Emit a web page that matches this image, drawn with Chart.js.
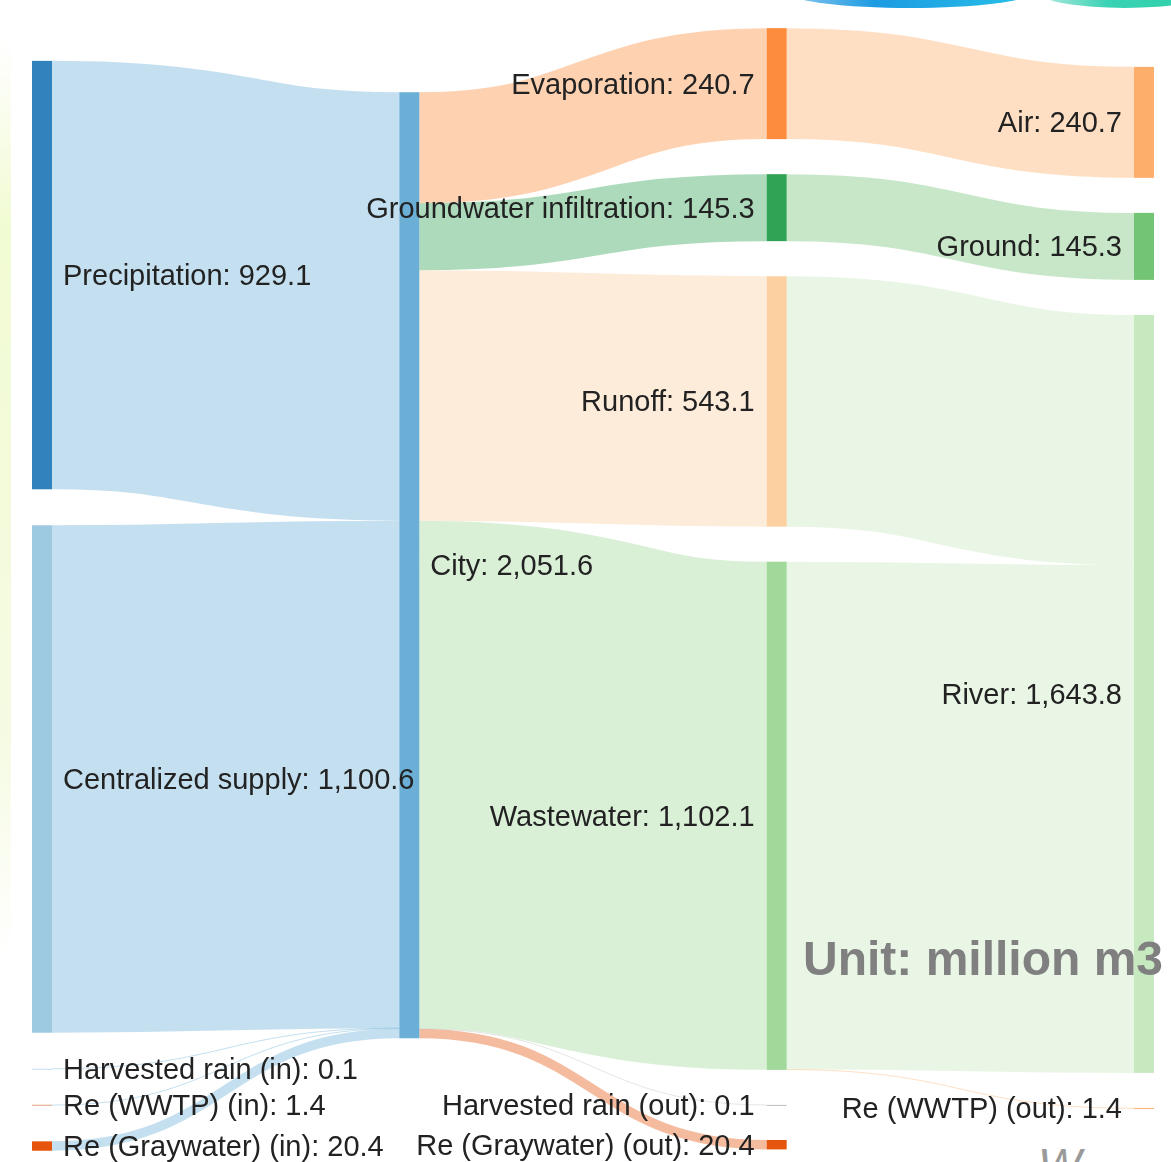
<!DOCTYPE html>
<html>
<head>
  <title>City water balance</title>
  <style>
    body { margin: 0; background: #fff; }
    #wrap { position: relative; width: 1171px; height: 1162px; overflow: hidden; }
    #edge { position: absolute; left: 0; top: 40px; width: 11px; height: 920px;
            background: linear-gradient(to bottom, rgba(241,251,211,0), #f1fbd3 20%, #f5fbe2 75%, rgba(241,251,211,0)); }
    #swooshBlue { position: absolute; left: 790px; top: -22px; width: 240px; height: 30px; border-radius: 50%;
                  background: linear-gradient(to right, #8cc8ef, #1d9be2 35%, #27c0e8); }
    #swooshTeal { position: absolute; left: 1040px; top: -22px; width: 170px; height: 30px; border-radius: 50%;
                  background: linear-gradient(to right, #b5eadf, #38d2b4 40%, #2fd0a8); }
    #mark { position: absolute; left: 1038px; top: 1138px; font: italic 46px "Liberation Sans", Arial, sans-serif; color: #9a9a9a; }
    #box { position: absolute; left: 0; top: 0; width: 1171px; height: 1162px; }
  </style>
</head>
<body>
  <div id="wrap">
    <div id="edge"></div>
    <div id="swooshBlue"></div>
    <div id="swooshTeal"></div>
    <div id="mark">W</div>
    <div id="box"><canvas id="chart"></canvas></div>
  </div>

  <script src="https://cdn.jsdelivr.net/npm/chart.js"></script>
  <script>
    // nodes, in column order (top to bottom)
    const nodeNames = [
      'Precipitation', 'Centralized supply', 'Harvested rain (in)', 'Re (WWTP) (in)', 'Re (Graywater) (in)',
      'City',
      'Evaporation', 'Groundwater infiltration', 'Runoff', 'Wastewater', 'Harvested rain (out)', 'Re (Graywater) (out)',
      'Air', 'Ground', 'River', 'Re (WWTP) (out)'
    ];
    const nodeColumn = [0, 0, 0, 0, 0, 1, 2, 2, 2, 2, 2, 2, 3, 3, 3, 3];
    const nodeColors = [
      '#3182bd', '#9ecae1', '#c6dbef', '#e0a47c', '#e6550d',
      '#6baed6',
      '#fd8d3c', '#31a354', '#fdd0a2', '#a1d99b', '#bdbdbd', '#e6550d',
      '#fdae6b', '#74c476', '#c7e9c0', '#fdae6b'
    ];

    // flows (million m3)
    const linkSource = [0, 1, 2, 3, 4, 5, 5, 5, 5, 5, 5, 6, 7, 8, 9, 9];
    const linkTarget = [5, 5, 5, 5, 5, 6, 7, 8, 9, 10, 11, 12, 13, 14, 14, 15];
    const linkValue = [929.1, 1100.6, 0.1, 1.4, 20.4, 240.7, 145.3, 543.1, 1102.1, 0.1, 20.4, 240.7, 145.3, 543.1, 1100.7, 1.4];

    // layout settings (value units on the y scale)
    const Y_MAX = 2520;
    const NODE_PAD = [78, 76, 76, 76];
    const COLUMN_TOP = [132, 200, 61, 145];
    const NODE_WIDTH = 20;
    const LINK_ALPHA = 0.4;

    const nodes = nodeNames.map((name, i) => ({
      name, col: nodeColumn[i], color: nodeColors[i], inSum: 0, outSum: 0, ins: [], outs: []
    }));
    const links = linkValue.map((v, i) => ({ source: nodes[linkSource[i]], target: nodes[linkTarget[i]], value: v }));
    links.forEach(l => {
      l.source.outSum += l.value; l.source.outs.push(l);
      l.target.inSum += l.value; l.target.ins.push(l);
    });
    nodes.forEach(n => {
      n.value = n.inSum || n.outSum;
      n.size = Math.max(n.inSum, n.outSum);
    });

    // stack nodes per column
    const cursor = COLUMN_TOP.slice();
    nodes.forEach(n => {
      n.y0 = cursor[n.col];
      n.y1 = n.y0 + n.size;
      cursor[n.col] = n.y1 + NODE_PAD[n.col];
    });
    nodes.forEach(n => {
      let y = n.y0;
      n.outs.sort((a, b) => a.target.y0 - b.target.y0).forEach(l => { l.sy0 = y; y += l.value; l.sy1 = y; });
      y = n.y0;
      n.ins.sort((a, b) => a.source.y0 - b.source.y0).forEach(l => { l.ty0 = y; y += l.value; l.ty1 = y; });
    });

    const fmt = v => v.toLocaleString('en-US', { minimumFractionDigits: 1, maximumFractionDigits: 1 });

    const sankeyPlugin = {
      id: 'sankey',
      beforeDatasetsDraw(chart) {
        const { ctx, scales: { x, y } } = chart;
        ctx.save();
        // links
        links.forEach(l => {
          const x0 = x.getPixelForValue(l.source.col) + NODE_WIDTH;
          const x1 = x.getPixelForValue(l.target.col);
          const ya = y.getPixelForValue((l.sy0 + l.sy1) / 2);
          const yb = y.getPixelForValue((l.ty0 + l.ty1) / 2);
          const w = Math.abs(y.getPixelForValue(l.value) - y.getPixelForValue(0));
          const xm = (x0 + x1) / 2;
          ctx.beginPath();
          ctx.moveTo(x0, ya);
          ctx.bezierCurveTo(xm, ya, xm, yb, x1, yb);
          ctx.globalAlpha = LINK_ALPHA;
          ctx.strokeStyle = l.target.color;
          ctx.lineWidth = Math.max(1, w);
          ctx.lineCap = 'butt';
          ctx.stroke();
        });
        // nodes
        ctx.globalAlpha = 1;
        nodes.forEach(n => {
          const px = x.getPixelForValue(n.col);
          const top = y.getPixelForValue(n.y0);
          const bot = y.getPixelForValue(n.y1);
          ctx.fillStyle = n.color;
          ctx.fillRect(px, top, NODE_WIDTH, Math.max(1, bot - top));
        });
        ctx.restore();
      },
      afterDatasetsDraw(chart) {
        const { ctx, scales: { x, y } } = chart;
        ctx.save();
        ctx.font = '29px "Liberation Sans", Arial, sans-serif';
        ctx.fillStyle = '#222';
        ctx.textBaseline = 'middle';
        nodes.forEach(n => {
          const px = x.getPixelForValue(n.col);
          const cy = y.getPixelForValue((n.y0 + n.y1) / 2);
          const label = n.name + ': ' + fmt(n.value);
          if (n.col < 2) {
            ctx.textAlign = 'left';
            ctx.fillText(label, px + NODE_WIDTH + 11, cy + 2);
          } else {
            ctx.textAlign = 'right';
            ctx.fillText(label, px - 12, cy + 2);
          }
        });
        ctx.font = 'bold 48px "Liberation Sans", Arial, sans-serif';
        ctx.fillStyle = '#808080';
        ctx.textAlign = 'right';
        ctx.textBaseline = 'alphabetic';
        ctx.fillText('Unit: million m3', 1163, 975);
        ctx.restore();
      }
    };

    new Chart(document.getElementById('chart'), {
      type: 'scatter',
      data: {
        datasets: [{
          label: 'Nodes',
          data: nodes.map(n => ({ x: n.col, y: (n.y0 + n.y1) / 2 })),
          pointRadius: 0,
          pointHoverRadius: 0
        }]
      },
      options: {
        responsive: true,
        maintainAspectRatio: false,
        animation: false,
        layout: { padding: { left: 32, right: 37, top: 0, bottom: 0 } },
        scales: {
          x: { type: 'linear', min: 0, max: 3, display: false },
          y: { type: 'linear', min: 0, max: Y_MAX, reverse: true, display: false }
        },
        plugins: { legend: { display: false }, tooltip: { enabled: false } }
      },
      plugins: [sankeyPlugin]
    });
  </script>
</body>
</html>
